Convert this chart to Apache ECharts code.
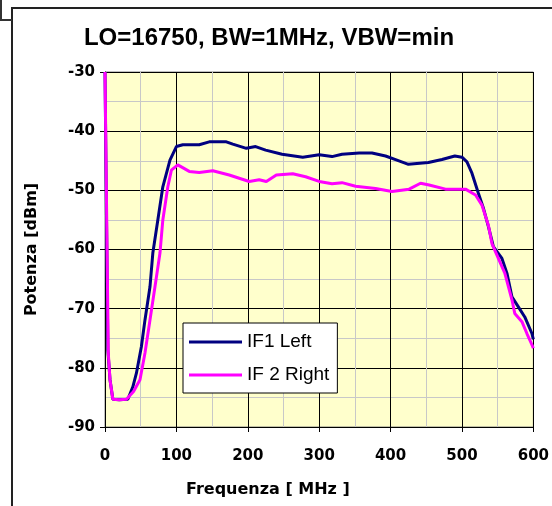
<!DOCTYPE html>
<html>
<head>
<meta charset="utf-8">
<script src="https://cdn.jsdelivr.net/npm/echarts@6/dist/echarts.min.js"></script>
<style>
  html, body { margin: 0; padding: 0; background: #fff; }
  #chart { width: 552px; height: 506px; }
</style>
</head>
<body>
<div id="chart"></div>
<script>
// valori: [frequenza MHz, potenza dBm]
const seriesNames = ['IF1 Left', 'IF 2 Right']
const xTicks = [0, 100, 200, 300, 400, 500, 600]
const yTicks = [-90, -80, -70, -60, -50, -40, -30]

const if1Left = [
  [0, -30], [4, -77], [7, -82], [11, -85.3], [20, -85.4], [32, -85.3], [39, -83.2],
  [44, -80.9], [51, -76.4], [56, -71.9], [63, -66.3], [67, -60.6], [74, -55],
  [81, -49.4], [91, -44.9], [100, -42.6], [109, -42.3], [132, -42.3], [146, -41.8],
  [170, -41.8], [179, -42.2], [198, -42.9], [211, -42.6], [225, -43.2], [248, -43.9],
  [277, -44.4], [300, -44], [318, -44.3], [332, -43.9], [356, -43.7], [374, -43.7],
  [393, -44.2], [407, -44.8], [425, -45.6], [453, -45.3], [472, -44.8], [490, -44.2],
  [500, -44.4], [507, -45.2], [514, -47.1], [523, -50.5], [530, -53], [537, -56.1],
  [544, -59.5], [556, -61.5], [563, -64], [570, -68], [579, -69.7], [588, -71.4],
  [598, -74.2], [600, -75.2]
]

const if2Right = [
  [0, -30], [4.6, -77.5], [7, -82], [11, -85.3], [20, -85.4], [30, -85.3], [40, -84],
  [49, -82], [56, -77.5], [63, -71.9], [70, -66.3], [77, -60.6], [81, -55],
  [88, -49.4], [93, -46.6], [102, -45.7], [118, -46.8], [132, -47], [151, -46.7],
  [174, -47.4], [202, -48.5], [216, -48.2], [226, -48.5], [240, -47.4], [263, -47.2],
  [281, -47.7], [300, -48.5], [318, -48.9], [332, -48.7], [351, -49.3], [379, -49.7],
  [402, -50.2], [426, -49.8], [442, -48.8], [454, -49.1], [477, -49.8], [505, -49.8],
  [519, -50.8], [528, -52.5], [537, -55.9], [542, -59], [551, -61.5], [560, -64],
  [570, -68.5], [574, -70.8], [584, -72.2], [591, -74.2], [598, -76.1], [600, -76.7]
]

const chart = echarts.init(document.getElementById('chart'))

const boldFont = { fontFamily: 'DejaVu Sans', fontWeight: 'bold', fontSize: 15, color: '#000' }

chart.setOption({
  animation: false,
  backgroundColor: '#fff',
  title: {
    text: 'LO=16750, BW=1MHz, VBW=min',
    left: 264,
    top: 21,
    textAlign: 'center',
    textStyle: { fontFamily: 'Liberation Sans, Arial', fontWeight: 'bold', fontSize: 24, color: '#000' }
  },
  grid: {
    left: 105, top: 72, width: 430, height: 355,
    show: true, backgroundColor: '#FFFFCC', borderColor: '#808080', borderWidth: 1
  },
  legend: {
    data: seriesNames,
    orient: 'vertical',
    left: 183, top: 323,
    backgroundColor: '#fff',
    borderColor: '#000', borderWidth: 1,
    padding: [8, 8, 7, 6],
    icon: 'rect',
    itemWidth: 53, itemHeight: 3,
    itemGap: 11,
    textStyle: { fontFamily: 'Liberation Sans, Arial', fontSize: 19, color: '#000', lineHeight: 22 }
  },
  xAxis: {
    type: 'value',
    min: xTicks[0], max: xTicks[xTicks.length - 1], interval: 100,
    axisLine: { lineStyle: { color: '#000', width: 1 } },
    axisTick: { show: true, length: 5, lineStyle: { color: '#000' } },
    axisLabel: Object.assign({ margin: 22 }, boldFont),
    splitLine: { show: true, lineStyle: { color: '#000', width: 1 } },
    minorTick: { show: false, splitNumber: 2 },
    minorSplitLine: { show: true, lineStyle: { color: '#C8C8C8', width: 1 } }
  },
  yAxis: {
    type: 'value',
    min: yTicks[0], max: yTicks[yTicks.length - 1], interval: 10,
    name: 'Potenza [dBm]',
    nameLocation: 'middle',
    nameGap: 65,
    nameTextStyle: Object.assign({}, boldFont, { fontSize: 16 }),
    axisLine: { show: true, lineStyle: { color: '#000', width: 1 } },
    axisTick: { show: true, length: 5, lineStyle: { color: '#000' } },
    axisLabel: Object.assign({ margin: 10 }, boldFont),
    splitLine: { show: true, lineStyle: { color: '#000', width: 1 } },
    minorTick: { show: false, splitNumber: 2 },
    minorSplitLine: { show: true, lineStyle: { color: '#C8C8C8', width: 1 } }
  },
  graphic: [
    {
      type: 'text', left: 186, top: 482,
      style: { text: 'Frequenza [ MHz ]', font: 'bold 16px "DejaVu Sans"', fill: '#000' }
    },
    {
      type: 'polyline',
      shape: { points: [[12, 506], [12, 8], [552, 8]] },
      style: { stroke: '#222', lineWidth: 2, fill: null }
    },
    {
      type: 'polyline',
      shape: { points: [[1, 0], [1, 20], [12, 20]] },
      style: { stroke: '#333', lineWidth: 2, fill: null }
    }
  ],
  series: [
    {
      name: seriesNames[0], type: 'line', data: if1Left,
      symbol: 'none', color: '#000080',
      lineStyle: { width: 3, color: '#000080' }
    },
    {
      name: seriesNames[1], type: 'line', data: if2Right,
      symbol: 'none', color: '#FF00FF',
      lineStyle: { width: 3, color: '#FF00FF' }
    }
  ]
})

window.addEventListener('resize', () => chart.resize())
</script>
</body>
</html>
